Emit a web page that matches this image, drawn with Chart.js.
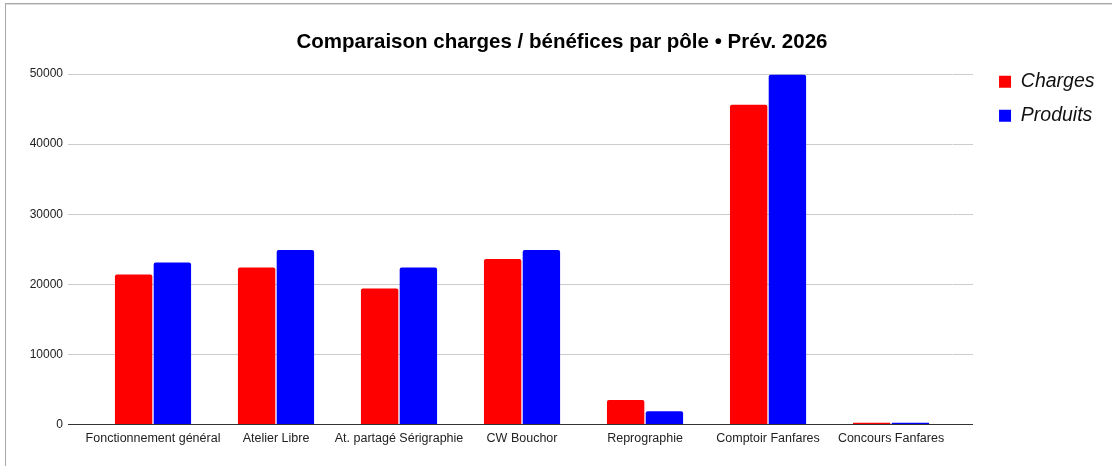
<!DOCTYPE html>
<html><head><meta charset="utf-8">
<script src="https://cdn.jsdelivr.net/npm/chart.js@4.4.1/dist/chart.umd.min.js"></script>
<style>
html,body{margin:0;padding:0;background:#fff;width:1112px;height:466px;overflow:hidden}
#frame{position:absolute;left:5px;top:3px;right:0;bottom:0;border-top:1px solid #a8a8a8;border-left:1px solid #a8a8a8;box-shadow:inset 0 1px 0 #dcdcdc}
#wrap{position:absolute;left:0;top:0;width:1112px;height:466px}
</style></head><body>
<div id="frame"></div>
<div id="wrap"><canvas id="c"></canvas></div>
<script>
const categories = ['Fonctionnement général','Atelier Libre','At. partagé Sérigraphie','CW Bouchor','Reprographie','Comptoir Fanfares','Concours Fanfares'];
const charges  = [21400, 22400, 19400, 23600, 3500, 45600, 250];
const produits = [23100, 24900, 22400, 24900, 1900, 49900, 250];
const seriesNames = ['Charges','Produits'];
const yMin = 0, yMax = 50000, yStep = 10000;
const titleText = 'Comparaison charges / bénéfices par pôle • Prév. 2026';

const FONT = "'Liberation Sans', Arial, sans-serif";
const gridColor = ctx => (ctx.tick && ctx.tick.value === 0) ? '#333333' : '#cccccc';

new Chart(document.getElementById('c'), {
  type: 'bar',
  data: {
    labels: categories,
    datasets: [
      {label: seriesNames[0], data: charges, backgroundColor: '#ff0000', borderWidth: 0, borderRadius: 2, categoryPercentage: 0.63, barPercentage: 0.965},
      {label: seriesNames[1], data: produits, backgroundColor: '#0000ff', borderWidth: 0, borderRadius: 2, categoryPercentage: 0.63, barPercentage: 0.965}
    ]
  },
  options: {
    responsive: true,
    maintainAspectRatio: false,
    animation: false,
    layout: {padding: {left: 19.5, right: 7.5, top: 0, bottom: 14.4}},
    plugins: {
      title: {display: true, text: titleText, color: '#000', font: {family: FONT, size: 20.5, weight: 'bold'}, padding: {top: 29.7, bottom: 19.7}},
      legend: {
        position: 'right', align: 'start',
        title: {display: true, text: '', font: {size: 10, lineHeight: 1}, padding: {top: 47.5, bottom: 0}},
        labels: {boxWidth: 12, boxHeight: 12, padding: 14.5, color: '#111', font: {family: FONT, size: 19.5, style: 'italic'}}
      },
      tooltip: {enabled: false}
    },
    scales: {
      x: {
        grid: {display: false, drawTicks: false},
        border: {display: true, color: '#333333', width: 1},
        ticks: {color: '#222', padding: 6, font: {family: FONT, size: 12.5}, maxRotation: 0, autoSkip: false}
      },
      y: {
        min: yMin, max: yMax,
        afterFit: s => { s.width = 72; },
        grid: {color: gridColor, tickColor: gridColor, tickLength: 23.5},
        border: {display: false},
        ticks: {stepSize: yStep, color: '#222', padding: 5, font: {family: FONT, size: 12}, callback: v => String(v)}
      },
      yr: {
        type: 'linear', axis: 'y', position: 'right',
        min: yMin, max: yMax,
        afterFit: s => { s.width = 32; },
        grid: {drawOnChartArea: false, color: gridColor, tickColor: gridColor, tickLength: 20.5},
        border: {display: false},
        ticks: {display: false, stepSize: yStep}
      }
    }
  }
});
</script>
</body></html>
